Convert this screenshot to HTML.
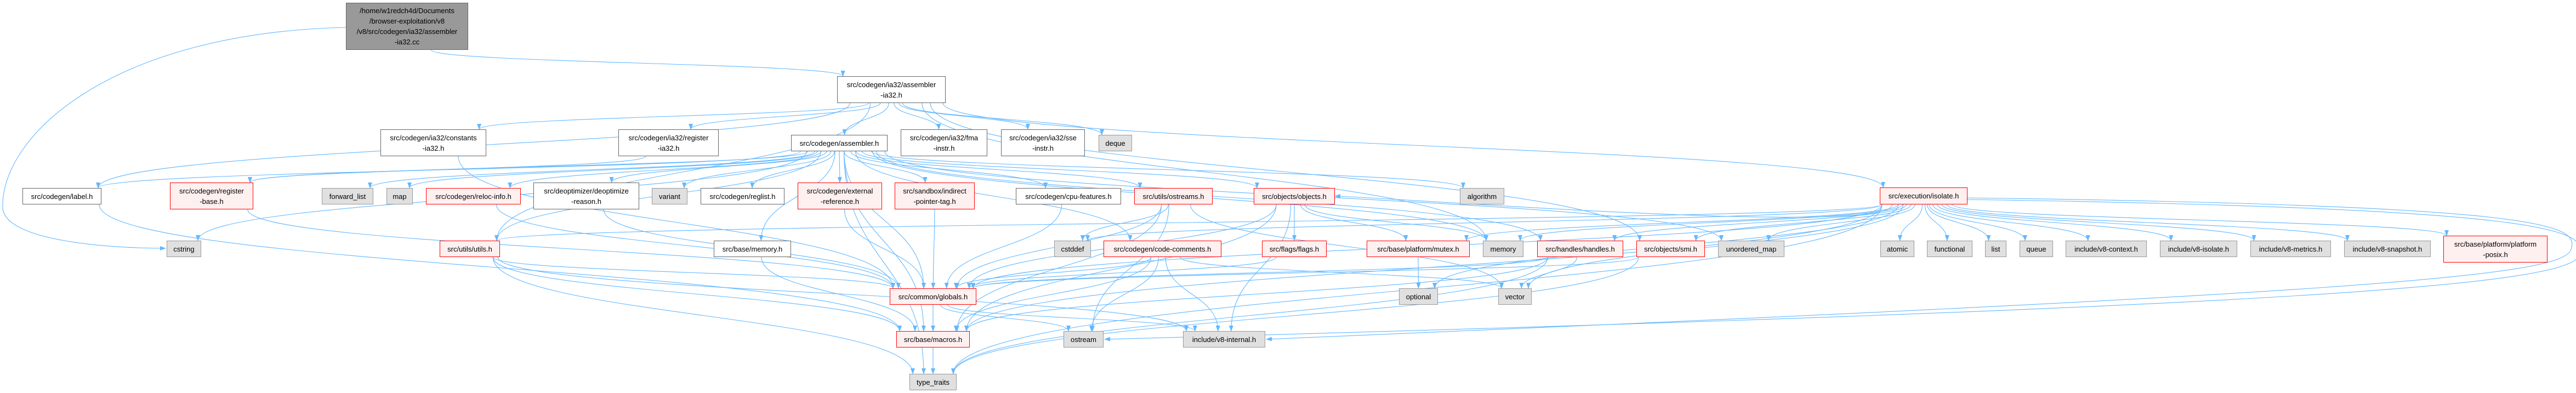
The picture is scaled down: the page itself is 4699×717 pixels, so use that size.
<!DOCTYPE html>
<html><head><meta charset="utf-8">
<style>
html,body{margin:0;padding:0;background:#fff;}
#wrap{position:relative;width:4699px;height:717px;overflow:hidden;background:#fff;}
svg{position:absolute;left:0;top:0;}
.n{position:absolute;box-sizing:border-box;border:1.3px solid #666;background:#fff;font-family:"Liberation Sans","DejaVu Sans",sans-serif;font-size:13px;color:#000;text-align:center;display:flex;align-items:center;justify-content:center;line-height:19px;white-space:nowrap;z-index:2;}
.g{background:#e0e0e0;border-color:#999;}
.r{background:#fff0f0;border-color:#f00;}
.root{background:#999;border-color:#666;}
</style></head><body>
<div id="wrap">
<svg id="sv" width="4699" height="717" viewBox="0 0 4699 717">
<defs><marker id="ah" markerWidth="11" markerHeight="8" refX="10" refY="4" orient="auto" markerUnits="userSpaceOnUse"><path d="M0,0 L11,4 L0,8 z" fill="#63b8ff"/></marker></defs>
<g id="eg" fill="none" stroke="#63b8ff" stroke-width="1.1">
<path d="M631,50 C200,60 0,250 5,380 C10,440 200,453 302,453" marker-end="url(#ah)"/>
<path d="M3589,361 C4650,375 4705,410 4690,455 C4675,505 4300,535 2310,619" marker-end="url(#ah)"/>
<path d="M3589,364 C4660,380 4720,420 4705,465 C4690,520 4200,560 2015,619" marker-end="url(#ah)"/>
</g>
</svg>

<div class="n root" id="root" style="left:631px;top:5px;width:223px;height:86px;">/home/w1redch4d/Documents<br>/browser-exploitation/v8<br>/v8/src/codegen/ia32/assembler<br>-ia32.cc</div>
<div class="n" id="a32" style="left:1527px;top:139px;width:198px;height:49px;">src/codegen/ia32/assembler<br>-ia32.h</div>

<div class="n" id="constants" style="left:694px;top:236px;width:193px;height:49px;">src/codegen/ia32/constants<br>-ia32.h</div>
<div class="n" id="reg32" style="left:1128px;top:236px;width:183px;height:49px;">src/codegen/ia32/register<br>-ia32.h</div>
<div class="n" id="asm" style="left:1443px;top:246px;width:176px;height:30px;">src/codegen/assembler.h</div>
<div class="n" id="fma" style="left:1643px;top:236px;width:158px;height:49px;">src/codegen/ia32/fma<br>-instr.h</div>
<div class="n" id="sse" style="left:1826px;top:236px;width:153px;height:49px;">src/codegen/ia32/sse<br>-instr.h</div>
<div class="n g" id="deque" style="left:2004px;top:246px;width:61px;height:30px;">deque</div>

<div class="n" id="label" style="left:41px;top:343px;width:144px;height:30px;">src/codegen/label.h</div>
<div class="n r" id="regbase" style="left:310px;top:333px;width:152px;height:49px;">src/codegen/register<br>-base.h</div>
<div class="n g" id="fwd" style="left:587px;top:343px;width:94px;height:30px;">forward_list</div>
<div class="n g" id="map" style="left:705px;top:343px;width:48px;height:30px;">map</div>
<div class="n r" id="reloc" style="left:777px;top:343px;width:173px;height:30px;">src/codegen/reloc-info.h</div>
<div class="n" id="deopt" style="left:973px;top:333px;width:193px;height:49px;">src/deoptimizer/deoptimize<br>-reason.h</div>
<div class="n g" id="variant" style="left:1189px;top:343px;width:65px;height:30px;">variant</div>
<div class="n" id="reglist" style="left:1278px;top:343px;width:153px;height:30px;">src/codegen/reglist.h</div>
<div class="n r" id="extref" style="left:1455px;top:333px;width:154px;height:49px;">src/codegen/external<br>-reference.h</div>
<div class="n r" id="indirect" style="left:1632px;top:333px;width:146px;height:49px;">src/sandbox/indirect<br>-pointer-tag.h</div>
<div class="n" id="cpu" style="left:1853px;top:343px;width:192px;height:30px;">src/codegen/cpu-features.h</div>
<div class="n r" id="ostreams" style="left:2069px;top:343px;width:143px;height:30px;">src/utils/ostreams.h</div>
<div class="n r" id="objects" style="left:2287px;top:343px;width:148px;height:30px;">src/objects/objects.h</div>
<div class="n g" id="algorithm" style="left:2663px;top:343px;width:81px;height:30px;">algorithm</div>
<div class="n r" id="isolate" style="left:3429px;top:342px;width:160px;height:31px;">src/execution/isolate.h</div>

<div class="n g" id="cstring" style="left:304px;top:439px;width:63px;height:30px;">cstring</div>
<div class="n r" id="utils" style="left:802px;top:439px;width:110px;height:30px;">src/utils/utils.h</div>
<div class="n" id="memh" style="left:1302px;top:439px;width:141px;height:30px;">src/base/memory.h</div>
<div class="n g" id="cstddef" style="left:1923px;top:439px;width:67px;height:30px;">cstddef</div>
<div class="n r" id="cc" style="left:2013px;top:439px;width:215px;height:30px;">src/codegen/code-comments.h</div>
<div class="n r" id="flags" style="left:2302px;top:439px;width:118px;height:30px;">src/flags/flags.h</div>
<div class="n r" id="mutex" style="left:2493px;top:439px;width:188px;height:30px;">src/base/platform/mutex.h</div>
<div class="n g" id="memg" style="left:2705px;top:439px;width:74px;height:30px;">memory</div>
<div class="n r" id="handles" style="left:2804px;top:439px;width:157px;height:30px;">src/handles/handles.h</div>
<div class="n r" id="smi" style="left:2985px;top:439px;width:125px;height:30px;">src/objects/smi.h</div>
<div class="n g" id="umap" style="left:3134px;top:439px;width:121px;height:30px;">unordered_map</div>
<div class="n g" id="atomic" style="left:3430px;top:439px;width:62px;height:30px;">atomic</div>
<div class="n g" id="functional" style="left:3515px;top:439px;width:83px;height:30px;">functional</div>
<div class="n g" id="list" style="left:3621px;top:439px;width:39px;height:30px;">list</div>
<div class="n g" id="queue" style="left:3684px;top:439px;width:61px;height:30px;">queue</div>
<div class="n g" id="v8ctx" style="left:3768px;top:439px;width:148px;height:30px;">include/v8-context.h</div>
<div class="n g" id="v8iso" style="left:3940px;top:439px;width:141px;height:30px;">include/v8-isolate.h</div>
<div class="n g" id="v8met" style="left:4105px;top:439px;width:147px;height:30px;">include/v8-metrics.h</div>
<div class="n g" id="v8snap" style="left:4276px;top:439px;width:158px;height:30px;">include/v8-snapshot.h</div>
<div class="n r" id="posix" style="left:4457px;top:430px;width:190px;height:49px;">src/base/platform/platform<br>-posix.h</div>

<div class="n r" id="globals" style="left:1623px;top:526px;width:158px;height:30px;">src/common/globals.h</div>
<div class="n g" id="optional" style="left:2552px;top:526px;width:71px;height:30px;">optional</div>
<div class="n g" id="vector" style="left:2733px;top:526px;width:61px;height:30px;">vector</div>

<div class="n r" id="macros" style="left:1635px;top:604px;width:134px;height:30px;">src/base/macros.h</div>
<div class="n g" id="ostream" style="left:1940px;top:604px;width:73px;height:30px;">ostream</div>
<div class="n g" id="v8int" style="left:2158px;top:604px;width:150px;height:30px;">include/v8-internal.h</div>

<div class="n g" id="tt" style="left:1659px;top:682px;width:86px;height:30px;">type_traits</div>
</div>
<script>
(function(){
var E=[
['root','a32'],
['a32','constants'],['a32','reg32'],['a32','asm'],['a32','fma'],['a32','sse'],['a32','deque'],['a32','label'],['a32','isolate'],['a32','smi'],['a32','memg'],['a32','utils'],
['asm','label'],['asm','regbase'],['asm','fwd'],['asm','map'],['asm','reloc'],['asm','deopt'],['asm','variant'],['asm','reglist'],['asm','extref'],['asm','indirect'],['asm','cpu'],['asm','ostreams'],['asm','objects'],['asm','algorithm'],['asm','memg'],['asm','handles'],['asm','cc'],['asm','umap'],['asm','globals'],['asm','macros'],['asm','cstring'],['asm','memh'],['asm','tt'],['asm','utils'],
['constants','globals'],['reg32','regbase'],['label','macros'],['regbase','globals'],
['reloc','globals'],['deopt','globals'],['extref','globals'],['indirect','globals'],['cpu','globals'],
['utils','globals'],['utils','macros'],['utils','tt'],['utils','v8int'],['memh','macros'],
['ostreams','cstddef'],['ostreams','ostream'],['ostreams','macros'],['ostreams','globals'],['ostreams','vector'],
['objects','flags'],['objects','memg'],['objects','globals'],['objects','v8int'],['objects','mutex'],['objects','macros'],
['cc','globals'],['cc','macros'],['cc','ostream'],['cc','v8int'],['cc','vector'],
['flags','globals'],['mutex','optional'],
['handles','globals'],['handles','vector'],['handles','macros'],['handles','tt'],
['smi','globals'],['smi','tt'],
['globals','macros'],['globals','ostream'],['globals','v8int'],['macros','tt'],
['isolate','umap'],['isolate','atomic'],['isolate','functional'],['isolate','list'],['isolate','queue'],['isolate','v8ctx'],['isolate','v8iso'],['isolate','v8met'],['isolate','v8snap'],['isolate','posix'],['isolate','memg'],['isolate','handles'],['isolate','mutex'],['isolate','globals'],['isolate','macros'],['isolate','vector'],['isolate','optional'],['isolate','cstddef'],['isolate','utils'],['isolate','objects'],['isolate','smi'],['isolate','tt']
];
function R(id){var e=document.getElementById(id);return {x:e.offsetLeft,y:e.offsetTop,w:e.offsetWidth,h:e.offsetHeight};}
var g=document.getElementById('eg'),ns='http://www.w3.org/2000/svg';
E.forEach(function(p){
 var a=R(p[0]),b=R(p[1]);
 var sx=a.x+a.w/2,sy=a.y+a.h,tx=b.x+b.w/2,ty=b.y;
 var dx=tx-sx;
 sx+=Math.max(-a.w/2+4,Math.min(a.w/2-4,dx*0.05));
 tx-=Math.max(-b.w/2+6,Math.min(b.w/2-6,dx*0.1));
 var d;
 if(ty<sy+4){
   var ly=b.y+b.h/2; var ex=(tx<sx)?b.x+b.w:b.x;
   d='M'+sx+','+sy+' C'+sx+','+(sy+60)+' '+(ex+(tx<sx?80:-80))+','+ly+' '+ex+','+ly;
 } else {
   var m=(ty-sy)*0.5;
   d='M'+sx+','+sy+' C'+sx+','+(sy+m)+' '+tx+','+(ty-m)+' '+tx+','+ty;
 }
 var pa=document.createElementNS(ns,'path');pa.setAttribute('d',d);pa.setAttribute('marker-end','url(#ah)');g.appendChild(pa);
});
})();
</script>
</body></html>
